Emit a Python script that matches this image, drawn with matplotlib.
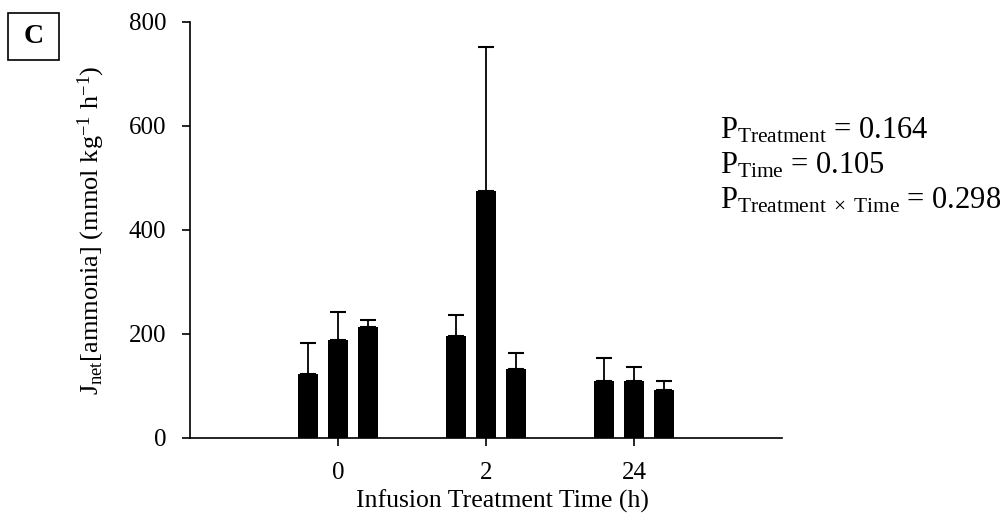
import matplotlib.pyplot as plt
from matplotlib.patches import Rectangle
import numpy as np

plt.rcParams['font.family'] = ['Liberation Serif', 'DejaVu Serif']
plt.rcParams['mathtext.fontset'] = 'custom'
plt.rcParams['mathtext.rm'] = 'Liberation Serif'
plt.rcParams['mathtext.it'] = 'Liberation Serif:italic'

# sampling times and mean flux per treatment (three bars per time)
times = ['0', '2', '24']
means = [[124, 188, 213],
         [196, 475, 133],
         [109, 109, 92]]
upper_err = [[58, 55, 13],
             [41, 277, 30],
             [45, 28, 17]]
p_lines = [r'P$_{\mathrm{Treatment}}$ = 0.164',
           r'P$_{\mathrm{Time}}$ = 0.105',
           r'P$_{\mathrm{Treatment\ \times\ Time}}$ = 0.298']

fig = plt.figure(figsize=(10.07, 5.27), dpi=100)
ax = fig.add_axes([0.1887, 0.1689, 0.588, 0.7894])

width = 0.135
offsets = [-0.203, 0, 0.203]
centers = np.arange(1, len(times) + 1)
for i, c in enumerate(centers):
    xs = c + np.array(offsets)
    ax.bar(xs, means[i], width=width, color='black', zorder=2)
    ax.errorbar(xs, means[i], yerr=[np.zeros(3), upper_err[i]], fmt='none',
                ecolor='black', elinewidth=1.3, capsize=6, capthick=1.5, zorder=1)

ax.set_xlim(0, 4)
ax.set_ylim(0, 800)
ax.set_xticks(centers)
ax.set_xticklabels(times)
ax.set_yticks([0, 200, 400, 600, 800])
for s in ['top', 'right']:
    ax.spines[s].set_visible(False)
ax.spines['left'].set_linewidth(1.2)
ax.spines['bottom'].set_linewidth(1.2)
ax.tick_params(labelsize=18, width=1.2, length=6, pad=11)
ax.set_xlabel('Infusion Treatment Time (h)', fontsize=18.5)
ax.xaxis.set_label_coords(0.527, -0.125)
ax.set_ylabel(r'J$_{\mathrm{net}}$[ammonia] (mmol kg$^{-1}$ h$^{-1}$)', fontsize=19)
ax.yaxis.set_label_coords(-0.14, 0.5)

for k, line in enumerate(p_lines):
    fig.text(0.715, 0.738 - k * 0.067, line, fontsize=22)

# panel letter in a box
fig.patches.append(Rectangle((0.0079, 0.8861), 0.0506, 0.0892, transform=fig.transFigure,
                             fc='white', ec='black', lw=1.2))
fig.text(0.0333, 0.9307, 'C', fontsize=20, fontweight='bold', ha='center', va='center')

fig.savefig('out.png', dpi=100)
